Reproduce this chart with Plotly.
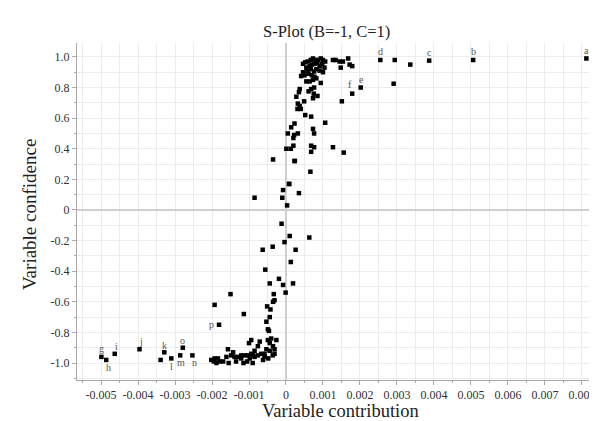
import plotly.graph_objects as go

# Data (x in units of 0.001, converted below)
contrib_milli = [
    # left tail labelled / unlabelled
    -4.99, -4.86, -4.63, -3.96, -3.29, -3.39, -3.10, -2.86, -2.79, -2.53,
    # bottom cluster
    -2.02, -1.95, -1.88, -1.79, -1.93, -1.84, -1.61, -1.57, -1.48, -1.43, -1.39, -1.30,
    -1.21, -1.21, -1.12, -1.03, -1.0, -0.98, -0.94, -0.94, -0.89, -0.85, -0.85, -0.76,
    -0.76, -0.71, -0.67, -0.58, -0.58, -0.53, -0.49, -0.44, -0.44, -0.40, -0.35, -0.31,
    -0.31, -0.26, -1.70, -1.55, -1.35, -1.15, -1.05, -0.90, -0.62, -0.48, -0.36,
    # lower rise
    -1.50, -1.93, -1.14, -1.81, -0.33, -0.31, -0.35, -0.51, -0.42, -0.01, -0.44, -0.53,
    -0.49, -0.46, -0.19, 0.19, -0.44, -0.08, -0.56, 0.13, 0.26, -0.63, -0.36, -0.04,
    0.63, 0.10, -0.12, 0.03, -0.10, -0.85, 0.35, -0.08, 0.08, 0.66, 0.23, -0.35,
    # upper rise
    0.24, 0.09, 0.01, 0.13, 0.68, 0.76, 0.68, 1.27, 1.56, 0.20, 0.05, 0.32, 0.22,
    0.20, 0.73, 0.76, 0.23, 0.14, 1.06, 0.52, 0.68, 0.40, 0.31, 0.37, 0.32, 0.49,
    0.28, 0.73, 0.85, 0.75, 0.61, 0.35, 0.37, 0.68, 0.76, 0.55, 0.64, 0.73, 0.82,
    0.94, 0.50, 0.61, 0.70, 0.77, 0.41, 0.46, 0.58, 0.67, 0.76, 0.82, 0.91, 1.0,
    0.55, 0.64, 0.70, 0.77, 0.85, 0.91, 0.98, 1.04, 0.46, 0.52, 0.59, 0.67, 0.73,
    0.80, 0.86, 0.94, 1.0, 1.06,
    # top right
    1.27, 1.34, 1.45, 1.54, 1.68, 1.72, 1.79, 1.48, 1.51, 1.79, 2.02, 2.55,
    2.94, 3.36, 3.87, 5.06, 8.12, 2.91,
]
confidence = [
    -0.96, -0.98, -0.94, -0.91, -0.93, -0.98, -0.97, -0.95, -0.90, -0.95,
    -0.98, -0.99, -1.0, -0.99, -0.97, -0.97, -0.96, -0.91, -0.95, -0.93, -0.96, -0.96,
    -0.95, -0.97, -0.95, -0.95, -0.87, -0.97, -0.85, -0.94, -0.95, -0.92, -0.96, -0.89,
    -0.95, -0.86, -0.94, -0.94, -0.96, -0.91, -0.85, -0.87, -0.92, -0.84, -0.89, -0.91,
    -0.94, -0.85, -0.99, -1.0, -0.99, -1.0, -0.99, -1.0, -0.98, -0.97, -0.95,
    -0.55, -0.62, -0.68, -0.75, -0.55, -0.59, -0.60, -0.63, -0.65, -0.54, -0.70, -0.73,
    -0.78, -0.79, -0.45, -0.48, -0.48, -0.49, -0.39, -0.34, -0.26, -0.26, -0.24, -0.21,
    -0.18, -0.17, -0.09, 0.03, 0.08, 0.08, 0.11, 0.13, 0.17, 0.25, 0.32, 0.33,
    0.32, 0.17, 0.40, 0.40, 0.42, 0.41, 0.38, 0.41, 0.375, 0.42, 0.50, 0.50, 0.49,
    0.47, 0.53, 0.50, 0.565, 0.54, 0.57, 0.62, 0.61, 0.66, 0.66, 0.68, 0.695, 0.71,
    0.74, 0.73, 0.745, 0.76, 0.775, 0.77, 0.79, 0.79, 0.80, 0.84, 0.84, 0.85, 0.86,
    0.83, 0.88, 0.89, 0.88, 0.87, 0.875, 0.90, 0.91, 0.92, 0.905, 0.92, 0.91, 0.90,
    0.93, 0.94, 0.95, 0.955, 0.96, 0.94, 0.955, 0.93, 0.955, 0.965, 0.97, 0.98, 0.99,
    0.98, 0.98, 0.99, 0.98, 0.97,
    0.98, 0.98, 0.97, 0.97, 0.99, 0.95, 0.94, 0.93, 0.71, 0.76, 0.80, 0.98,
    0.98, 0.95, 0.976, 0.98, 0.99, 0.825,
]

# Labelled points
label_names = ["a", "b", "c", "d", "e", "f", "g", "h", "i", "j", "k", "l", "m", "n", "o", "p"]
label_x_milli = [8.12, 5.06, 3.87, 2.55, 2.02, 1.79, -4.99, -4.86, -4.63, -3.96, -3.29, -3.10, -2.86, -2.53, -2.79, -1.81]
label_y = [0.99, 0.98, 0.976, 0.98, 0.80, 0.76, -0.96, -0.98, -0.94, -0.91, -0.93, -0.97, -0.95, -0.95, -0.90, -0.75]

x_tick_vals_milli = [-5, -4, -3, -2, -1, 0, 1, 2, 3, 4, 5, 6, 7, 8]
x_tick_text = ["-0.005", "-0.004", "-0.003", "-0.002", "-0.001", "0", "0.001", "0.002",
               "0.003", "0.004", "0.005", "0.006", "0.007", "0.008"]
y_tick_vals = [1.0, 0.8, 0.6, 0.4, 0.2, 0.0, -0.2, -0.4, -0.6, -0.8, -1.0]
y_tick_text = ["1.0", "0.8", "0.6", "0.4", "0.2", "0", "-0.2", "-0.4", "-0.6", "-0.8", "-1.0"]

# label offsets (pixels): dx, dy (positive dy = up)
label_offsets = {
    "a": (0, 8), "b": (0, 8), "c": (0, 8), "d": (0, 8), "e": (1, 8), "f": (-2, 9),
    "g": (0, 8), "h": (2, -8), "i": (2, 7), "j": (1, 8), "k": (0, 7), "l": (0, -8),
    "m": (1, -7), "n": (2, -7), "o": (0, 7), "p": (-8, 0),
}

FONT = "Liberation Serif"
W, H = 597, 421
ML, MR, MT, MB = 69, 2, 35, 49
x_vals = [v * 1e-3 for v in contrib_milli]

fig = go.Figure()
fig.add_trace(go.Scatter(
    x=x_vals, y=confidence, mode="markers",
    marker=dict(symbol="square", size=4.5, color="black"),
    hoverinfo="skip", showlegend=False,
))

for name, xm, yv in zip(label_names, label_x_milli, label_y):
    dx, dy = label_offsets[name]
    fig.add_annotation(x=xm * 1e-3, y=yv, text=name, showarrow=False,
                       xshift=dx, yshift=dy, font=dict(family=FONT, size=10, color="#555"))

plot_w = W - ML - MR
plot_h = H - MT - MB
# Title and axis titles as paper annotations for exact placement
fig.add_annotation(text="S-Plot (B=-1, C=1)", xref="paper", yref="paper",
                   x=(318 - ML) / plot_w, y=(H - MB - 23) / plot_h, showarrow=False,
                   xanchor="center", yanchor="middle",
                   font=dict(family=FONT, size=16.5, color="#222"))
fig.add_annotation(text="Variable contribution", xref="paper", yref="paper",
                   x=0.5, y=-(403 - (H - MB)) / plot_h, showarrow=False,
                   xanchor="center", yanchor="middle",
                   font=dict(family=FONT, size=18.5, color="#222"))
fig.add_annotation(text="Variable confidence", xref="paper", yref="paper",
                   x=-(ML - 21) / plot_w, y=(H - MB - 207) / plot_h, showarrow=False,
                   xanchor="center", yanchor="middle", textangle=-90,
                   font=dict(family=FONT, size=19, color="#222"))

fig.update_layout(
    width=W, height=H,
    margin=dict(l=ML, r=MR, t=MT, b=MB, autoexpand=False),
    paper_bgcolor="white", plot_bgcolor="white",
    font=dict(family=FONT, color="#222"),
)
fig.update_xaxes(
    range=[-0.00565, 0.00857], automargin=False,
    tickvals=[v * 1e-3 for v in x_tick_vals_milli], ticktext=x_tick_text,
    tickfont=dict(family=FONT, size=12, color="#333"),
    showgrid=True, gridcolor="#ececec", gridwidth=1,
    minor=dict(dtick=0.0005, tick0=0, showgrid=True, gridcolor="#ececec", ticks="outside",
               ticklen=2, tickcolor="#aaa"),
    zeroline=True, zerolinecolor="#cfcfcf", zerolinewidth=1.5,
    showline=True, linecolor="#aaa", linewidth=1,
    ticks="outside", ticklen=4, tickcolor="#aaa",
)
fig.update_yaxes(
    range=[-1.111, 1.091], automargin=False,
    tickvals=y_tick_vals, ticktext=y_tick_text,
    tickfont=dict(family=FONT, size=12, color="#333"),
    showgrid=True, gridcolor="#ececec", gridwidth=1,
    minor=dict(dtick=0.1, tick0=0, showgrid=True, gridcolor="#ececec", ticks="outside",
               ticklen=2, tickcolor="#aaa"),
    zeroline=True, zerolinecolor="#cfcfcf", zerolinewidth=1.5,
    showline=True, linecolor="#aaa", linewidth=1,
    ticks="outside", ticklen=4, tickcolor="#aaa",
)

fig.write_html("out.html")
